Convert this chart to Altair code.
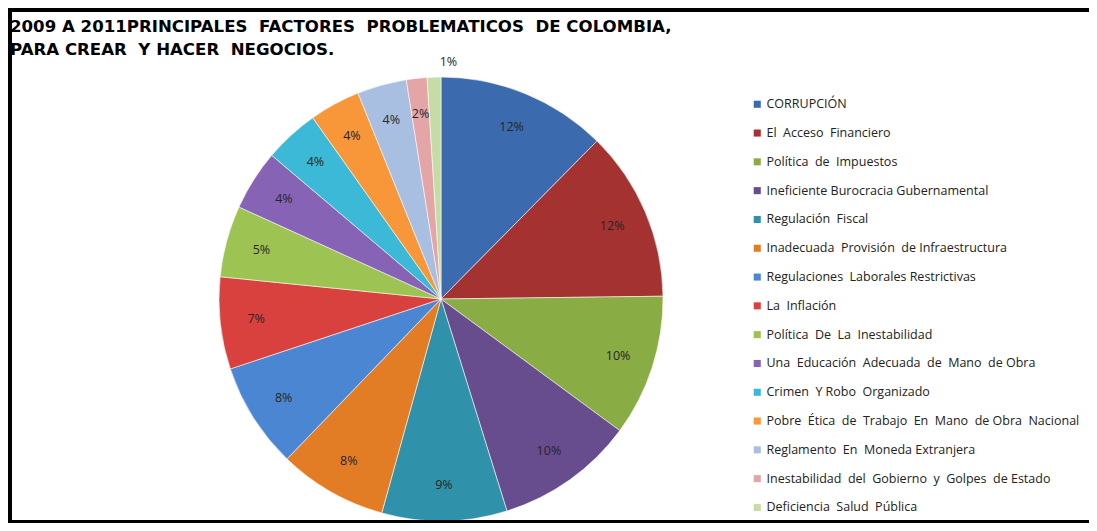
import altair as alt
import pandas as pd

NB = "\u00a0"

factors = [
    "CORRUPCIÓN",
    "El  Acceso  Financiero",
    "Política  de  Impuestos",
    "Ineficiente Burocracia Gubernamental",
    "Regulación  Fiscal",
    "Inadecuada  Provisión  de Infraestructura",
    "Regulaciones  Laborales Restrictivas",
    "La  Inflación",
    "Política  De  La  Inestabilidad",
    "Una  Educación  Adecuada  de  Mano  de Obra",
    "Crimen  Y Robo  Organizado",
    "Pobre  Ética  de  Trabajo  En  Mano  de Obra  Nacional",
    "Reglamento  En  Moneda Extranjera",
    "Inestabilidad  del  Gobierno  y  Golpes  de Estado",
    "Deficiencia  Salud  Pública",
]
values = [12.4, 12.4, 10.3, 10.1, 9.1, 7.9, 7.7, 6.7, 5.2, 4.4, 4.0, 3.7, 3.6, 1.5, 1.0]
colors = [
    "#3B6AAE", "#A33230", "#8AAC45", "#674D8E", "#2F92AA",
    "#E27D26", "#4A86D2", "#D9413E", "#9DC453", "#8663B5",
    "#3CB9D6", "#F8963A", "#A9BFE2", "#E3A5A5", "#C5DDA5",
]
title_lines = [
    "2009 A 2011PRINCIPALES  FACTORES  PROBLEMATICOS  DE COLOMBIA,",
    "PARA CREAR  Y HACER  NEGOCIOS.",
]

factors_disp = [f.replace("  ", " " + NB) for f in factors]
title_disp = [t.replace("  ", " " + NB) for t in title_lines]

df = pd.DataFrame({"factor": factors_disp, "value": values, "idx": list(range(len(factors)))})

W, H = 1081, 515
CX, CY, R = 433, 291, 222

base = alt.Chart(df).encode(
    theta=alt.Theta("value:Q", stack=True),
    order=alt.Order("idx:Q"),
    x=alt.value(CX),
    y=alt.value(CY),
)

arcs = base.mark_arc(outerRadius=R, stroke="#ffffff", strokeWidth=0.8, strokeOpacity=0.7).encode(
    color=alt.Color(
        "factor:N",
        scale=alt.Scale(domain=factors_disp, range=colors),
        sort=factors_disp,
        legend=alt.Legend(
            title=None,
            orient="none",
            legendX=743,
            legendY=90,
            symbolType="square",
            symbolSize=50,
            symbolStrokeWidth=0,
            labelFont="Open Sans",
            labelFontSize=12.5,
            labelColor="#222222",
            labelOffset=3,
            rowPadding=15.8,
            labelLimit=400,
        ),
    )
)

pct = base.transform_calculate(lbl="round(datum.value) + '%'")

labels_in = pct.transform_filter("datum.value >= 1.5").mark_text(
    radius=186, font="Open Sans", fontSize=12.5, color="#262626"
).encode(text="lbl:N")

labels_out = pct.transform_filter("datum.value < 1.5").mark_text(
    radius=237, font="Open Sans", fontSize=12.5, color="#262626"
).encode(text="lbl:N")

one = alt.Data(values=[{}])
title = alt.Chart(one).mark_text(
    align="left", baseline="alphabetic", font="DejaVu Sans", fontSize=16.6, fontWeight="bold",
    lineHeight=23, color="#000000"
).encode(x=alt.value(2), y=alt.value(24), text=alt.value(title_disp))

border_top = alt.Chart(one).mark_rule(color="#000000", strokeWidth=4).encode(
    x=alt.value(0), x2=alt.value(W), y=alt.value(2), y2=alt.value(2)
)
border_left = alt.Chart(one).mark_rule(color="#000000", strokeWidth=4).encode(
    x=alt.value(2), x2=alt.value(2), y=alt.value(0), y2=alt.value(H)
)
border_bottom = alt.Chart(one).mark_rule(color="#000000", strokeWidth=3).encode(
    x=alt.value(0), x2=alt.value(W), y=alt.value(H - 1.5), y2=alt.value(H - 1.5)
)

chart = alt.layer(
    arcs, labels_in, labels_out, title, border_top, border_left, border_bottom
).properties(
    width=W, height=H, padding=0, autosize=alt.AutoSizeParams(type="none"), background="#ffffff"
).configure_view(strokeWidth=0)

chart.save("out.html", embed_options={"renderer": "svg", "actions": False})
